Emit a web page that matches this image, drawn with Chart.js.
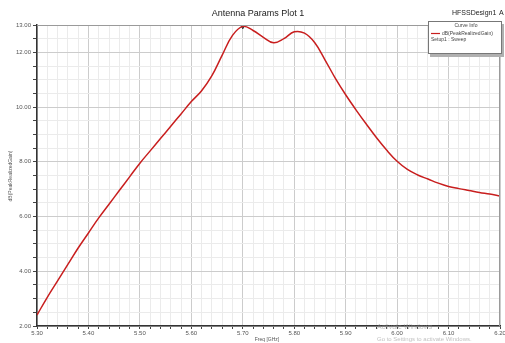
<!DOCTYPE html>
<html lang="en">
<head>
    <meta charset="UTF-8">
    <title>Antenna Params Plot 1</title>
<script src="https://cdn.jsdelivr.net/npm/chart.js@4.4.1/dist/chart.umd.min.js"></script>
<style>
    body { margin: 0; background: #fff; }
    #wrap { width: 505px; height: 343px; }
</style>
</head>
<body>
    <div id="wrap"><canvas id="myChart" width="505" height="343"></canvas></div>
<script>
// frequency sweep (GHz) and peak realized gain (dB)
const freqs = [5.30, 5.32, 5.34, 5.36, 5.38, 5.40, 5.42, 5.44, 5.46, 5.48,
               5.50, 5.52, 5.54, 5.56, 5.58, 5.60, 5.62, 5.64, 5.66, 5.68,
               5.70, 5.72, 5.74, 5.76, 5.78, 5.80, 5.82, 5.84, 5.86, 5.88,
               5.90, 5.92, 5.94, 5.96, 5.98, 6.00, 6.02, 6.04, 6.06, 6.08,
               6.10, 6.12, 6.14, 6.16, 6.18, 6.20];
const gains = [2.40, 3.05, 3.65, 4.25, 4.85, 5.40, 5.95, 6.45, 6.95, 7.45,
               7.95, 8.40, 8.85, 9.30, 9.75, 10.20, 10.60, 11.15, 11.90, 12.62,
               12.95, 12.80, 12.55, 12.35, 12.50, 12.75, 12.70, 12.35, 11.72, 11.05,
               10.45, 9.90, 9.38, 8.88, 8.42, 8.02, 7.72, 7.52, 7.37, 7.22,
               7.10, 7.02, 6.95, 6.88, 6.82, 6.75];
// marker at the peak
const markerFreq = [5.70];
const markerGain = [12.95];
// labelled ticks
const yTickLabels = [2, 4, 6, 8, 10, 12, 13];
const xTickLabels = [5.30, 5.40, 5.50, 5.60, 5.70, 5.80, 5.90, 6.00, 6.10, 6.20];

var isXMajor = function(v) {
    return xTickLabels.some(function(t) { return Math.abs(t - v) < 1e-6; });
};
var isYMajor = function(v) {
    return yTickLabels.some(function(t) { return Math.abs(t - v) < 1e-6; });
};

// titles, legend box, watermark
var decor = {
    id: 'decor',
    afterDraw: function(chart) {
        var c = chart.ctx, a = chart.chartArea;
        c.save();
        c.strokeStyle = '#9a9a9a';
        c.lineWidth = 1;
        c.beginPath();
        c.moveTo(a.left, a.top + 0.5);
        c.lineTo(a.right - 0.5, a.top + 0.5);
        c.lineTo(a.right - 0.5, a.bottom);
        c.stroke();

        c.fillStyle = '#222';
        c.textBaseline = 'middle';
        c.textAlign = 'center';
        c.font = '9px "Liberation Sans", Arial, sans-serif';
        c.fillText('Antenna Params Plot 1', 258, 14);
        c.font = '7px "Liberation Sans", Arial, sans-serif';
        c.textAlign = 'left';
        c.fillText('HFSSDesign1', 452, 13);
        c.fillText('A', 499, 13);

        // legend box
        c.fillStyle = '#b0b0b0';
        c.fillRect(430, 24, 74, 33);
        c.fillStyle = '#fff';
        c.fillRect(428, 21, 74, 33);
        c.strokeStyle = '#777';
        c.strokeRect(428.5, 21.5, 73, 32);
        c.fillStyle = '#444';
        c.font = '5px "Liberation Sans", Arial, sans-serif';
        c.textAlign = 'center';
        c.fillText('Curve Info', 466, 26);
        c.strokeStyle = '#c81e1e';
        c.lineWidth = 1.2;
        c.beginPath();
        c.moveTo(431, 33.5);
        c.lineTo(440, 33.5);
        c.stroke();
        c.textAlign = 'left';
        c.fillText('dB(PeakRealizedGain)', 442, 33.5);
        c.fillText('Setup1 : Sweep', 431, 39.5);

        // axis titles
        c.fillStyle = '#555';
        c.textAlign = 'center';
        c.fillText('Freq [GHz]', 267, 340);
        c.save();
        c.translate(11, 176);
        c.rotate(-Math.PI / 2);
        c.fillText('dB(PeakRealizedGain)', 0, 0);
        c.restore();

        // windows watermark
        c.fillStyle = 'rgba(140,140,140,0.55)';
        c.textAlign = 'left';
        c.font = '7px "Liberation Sans", Arial, sans-serif';
        c.fillText('Activate Windows', 377, 327);
        c.font = '6px "Liberation Sans", Arial, sans-serif';
        c.fillText('Go to Settings to activate Windows.', 377, 339);
        c.restore();
    }
};

const ctx = document.getElementById('myChart').getContext('2d');
const myChart = new Chart(ctx, {
    type: 'line',
    data: {
        datasets: [{
            label: 'dB(PeakRealizedGain)',
            data: freqs.map(function(f, i) { return { x: f, y: gains[i] }; }),
            borderColor: '#c81e1e',
            borderWidth: 1.5,
            pointRadius: 0,
            tension: 0.4,
            fill: false
        }, {
            label: 'm1',
            data: markerFreq.map(function(f, i) { return { x: f, y: markerGain[i] }; }),
            showLine: false,
            pointStyle: 'triangle',
            rotation: 180,
            pointRadius: 2.5,
            backgroundColor: '#555',
            borderColor: '#333',
            borderWidth: 1
        }]
    },
    options: {
        responsive: false,
        animation: false,
        layout: { padding: { top: 25, right: 5, left: 0, bottom: 0 } },
        plugins: {
            legend: { display: false },
            tooltip: { enabled: false }
        },
        scales: {
            x: {
                type: 'linear',
                min: 5.3,
                max: 6.2,
                afterFit: function(s) {
                    s.height = 17;
                    s.paddingLeft = 0;
                    s.paddingRight = 0;
                },
                ticks: {
                    stepSize: 0.02,
                    autoSkip: false,
                    maxRotation: 0,
                    padding: 1,
                    color: '#555',
                    font: { size: 6, family: '"Liberation Sans", Arial' },
                    callback: function(v) { return isXMajor(v) ? v.toFixed(2) : ''; }
                },
                grid: {
                    color: function(c) { return isXMajor(c.tick.value) ? '#cccccc' : '#ebebeb'; },
                    tickColor: '#444',
                    tickLength: 3
                },
                border: { color: '#333', width: 1.5 }
            },
            y: {
                min: 2,
                max: 13,
                afterFit: function(s) {
                    s.width = 37;
                    s.paddingTop = 0;
                    s.paddingBottom = 0;
                },
                ticks: {
                    stepSize: 0.5,
                    autoSkip: false,
                    padding: 2,
                    color: '#555',
                    font: { size: 6, family: '"Liberation Sans", Arial' },
                    callback: function(v) { return isYMajor(v) ? v.toFixed(2) : ''; }
                },
                grid: {
                    color: function(c) { return isYMajor(c.tick.value) ? '#cccccc' : '#ebebeb'; },
                    tickColor: '#444',
                    tickLength: 4
                },
                border: { color: '#333', width: 1.5 }
            }
        }
    },
    plugins: [decor]
});
</script>
</body>
</html>
